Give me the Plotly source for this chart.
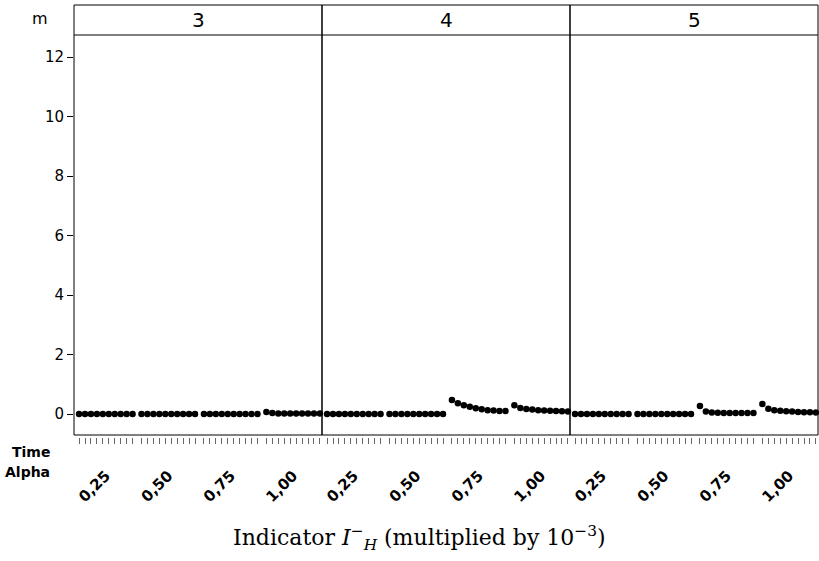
import plotly.graph_objects as go

# ---- data ----
m_levels = ["3", "4", "5"]
alpha_labels = ["0,25", "0,50", "0,75", "1,00"]
time_steps = [1, 2, 3, 4, 5, 6, 7, 8, 9, 10]

m3_a025 = [0, 0, 0, 0, 0, 0, 0, 0, 0, 0]
m3_a050 = [0, 0, 0, 0, 0, 0, 0, 0, 0, 0]
m3_a075 = [0, 0, 0, 0, 0, 0, 0, 0, 0, 0]
m3_a100 = [0.07, 0.03, 0.02, 0.02, 0.02, 0.02, 0.02, 0.02, 0.02, 0.02]

m4_a025 = [0, 0, 0, 0, 0, 0, 0, 0, 0, 0]
m4_a050 = [0, 0, 0, 0, 0, 0, 0, 0, 0, 0]
m4_a075 = [0.47, 0.36, 0.29, 0.24, 0.19, 0.16, 0.13, 0.12, 0.10, 0.10]
m4_a100 = [0.29, 0.20, 0.17, 0.15, 0.13, 0.12, 0.11, 0.10, 0.09, 0.08]

m5_a025 = [0, 0, 0, 0, 0, 0, 0, 0, 0, 0]
m5_a050 = [0, 0, 0, 0, 0, 0, 0, 0, 0, 0]
m5_a075 = [0.27, 0.08, 0.05, 0.04, 0.03, 0.03, 0.03, 0.03, 0.03, 0.03]
m5_a100 = [0.34, 0.18, 0.13, 0.11, 0.09, 0.08, 0.07, 0.06, 0.06, 0.05]

panels = {
    "3": [m3_a025, m3_a050, m3_a075, m3_a100],
    "4": [m4_a025, m4_a050, m4_a075, m4_a100],
    "5": [m5_a025, m5_a050, m5_a075, m5_a100],
}

y_ticks = [0, 2, 4, 6, 8, 10, 12]

# ---- layout helpers ----
GROUP_W = 10.5
xs = []
for g in range(len(alpha_labels)):
    for t in range(len(time_steps)):
        xs.append(g * GROUP_W + t)
group_centers = [g * GROUP_W + (len(time_steps) - 1) / 2 for g in range(len(alpha_labels))]

FONT = "DejaVu Sans"
PLOT_H = 402.0
Y0 = 2.0 / PLOT_H
HDR = 1 + 30.0 / PLOT_H


def py(pixel_y):
    # paper y from a pixel row (plot area spans rows 35..437)
    return (437.0 - pixel_y) / PLOT_H


def px(pixel_x):
    return (pixel_x - 74.0) / 744.0


fig = go.Figure()
layout = {}
shapes = []
annotations = []
for i, m in enumerate(m_levels):
    ys = []
    for grp in panels[m]:
        ys.extend(grp)
    axname = "x" if i == 0 else f"x{i+1}"
    fig.add_trace(go.Scatter(
        x=xs, y=ys, mode="markers", xaxis=axname, yaxis="y",
        marker=dict(color="black", size=6.5), showlegend=False,
        hoverinfo="x+y", cliponaxis=False))
    key = "xaxis" if i == 0 else f"xaxis{i+1}"
    layout[key] = dict(
        domain=[i / 3, (i + 1) / 3], anchor="free", position=0,
        automargin=False,
        range=[-0.85, 40.85], showgrid=False, zeroline=False, showline=False,
        tickmode="array", tickvals=group_centers, ticktext=alpha_labels,
        ticks="", ticklen=0, tickangle=-45, ticklabelstandoff=26,
        tickfont=dict(family=FONT, size=15, color="black", weight="bold"),
        minor=dict(tickmode="array", tickvals=xs, ticks="outside", ticklen=6,
                   tickcolor="#666", tickwidth=1, showgrid=False),
    )
    # panel frame
    shapes.append(dict(type="rect", xref="paper", yref="paper",
                       x0=i / 3, x1=(i + 1) / 3, y0=Y0, y1=HDR,
                       line=dict(color="black", width=1), layer="above"))
    shapes.append(dict(type="line", xref="paper", yref="paper",
                       x0=i / 3, x1=(i + 1) / 3, y0=1, y1=1,
                       line=dict(color="black", width=1)))
    annotations.append(dict(text=m, xref="paper", yref="paper",
                            x=(i + 0.5) / 3, y=(1 + HDR) / 2, showarrow=False,
                            xanchor="center", yanchor="middle",
                            font=dict(family=FONT, size=20, color="black")))

annotations += [
    dict(text="m", xref="paper", yref="paper", x=px(39.5), y=py(19),
         showarrow=False, xanchor="center", yanchor="middle",
         font=dict(family=FONT, size=16, color="black")),
    dict(text="<b>Time</b>", xref="paper", yref="paper", x=px(52), y=py(452),
         showarrow=False, xanchor="right", yanchor="middle",
         font=dict(family=FONT, size=14, color="black")),
    dict(text="<b>Alpha</b>", xref="paper", yref="paper", x=px(52), y=py(472),
         showarrow=False, xanchor="right", yanchor="middle",
         font=dict(family=FONT, size=14, color="black")),
    dict(text="Indicator <i>I</i><sup>−</sup><sub><i>H</i></sub> (multiplied by 10<sup>−3</sup>)",
         xref="paper", yref="paper", x=px(419), y=py(538), showarrow=False,
         xanchor="center", yanchor="middle",
         font=dict(family="DejaVu Serif", size=22, color="black")),
]

fig.update_layout(
    width=819, height=561,
    margin=dict(l=74, r=1, t=35, b=124, autoexpand=False),
    paper_bgcolor="white", plot_bgcolor="white",
    yaxis=dict(domain=[Y0, 1], anchor="x", range=[-0.706, 12.74],
               automargin=False,
               tickmode="array", tickvals=y_ticks, ticks="outside", ticklen=6,
               tickcolor="black", showgrid=False, zeroline=False, showline=False,
               tickfont=dict(family=FONT, size=15, color="black")),
    shapes=shapes, annotations=annotations,
    **layout,
)

fig.write_html("out.html", config={"displayModeBar": False},
               post_script="document.body.style.margin='0';document.body.style.padding='0';")
